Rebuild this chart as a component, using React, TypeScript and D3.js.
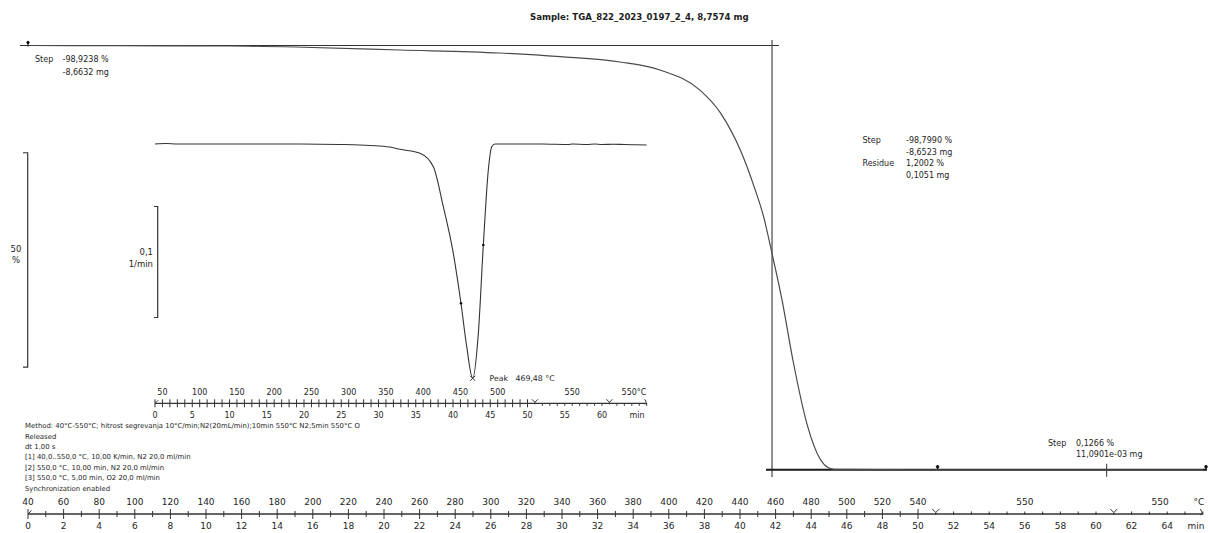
import React from 'react';
import * as d3 from 'd3';

// ---------- DATA ----------
const title = 'Sample: TGA_822_2023_0197_2_4, 8,7574 mg';

// TGA mass curve (time in min, mass in %)
const tgaTime = [0, 5, 11.35, 15, 20.9, 26.5, 29.9, 33.26, 35.5, 37.75, 38.9, 40.0, 40.84, 41.3, 41.8, 42.36, 42.98, 43.76, 44.5, 44.94, 45.3, 50, 55, 60, 66];
const tgaMass = [100, 99.95, 99.88, 99.65, 98.95, 98.25, 97.4, 96.15, 94.3, 89.6, 84.3, 75.8, 66.5, 60.5, 51.5, 40.7, 26.5, 11.8, 3.6, 1.6, 1.15, 1.09, 1.08, 1.08, 1.08];

// DTG curve (time in min, 1/min)
const dtgTime = [0, 1.5, 3, 10, 19.5, 24.8, 28.9, 31.5, 32.89, 35.57, 37.36, 38.7, 40.04, 41.07, 41.84, 42.64, 43.4, 44.07, 44.74, 45.2, 45.64, 48, 52, 55.5, 56, 58, 59, 60, 61.5, 63, 64.5, 66];
const dtgValue = [0, 0.0004, 0, 0, 0, -0.0004, -0.0013, -0.0027, -0.0048, -0.0084, -0.0205, -0.0565, -0.0985, -0.1435, -0.1826, -0.2111, -0.1706, -0.091, -0.0234, -0.0024, 0, 0, 0, -0.0004, 0, -0.0005, 0, -0.0004, -0.0002, -0.0005, -0.0007, -0.0009];

// Main axis labels
const mainMinTicks = [0, 2, 4, 6, 8, 10, 12, 14, 16, 18, 20, 22, 24, 26, 28, 30, 32, 34, 36, 38, 40, 42, 44, 46, 48, 50, 52, 54, 56, 58, 60, 62, 64];
const mainTempPos = [0, 2, 4, 6, 8, 10, 12, 14, 16, 18, 20, 22, 24, 26, 28, 30, 32, 34, 36, 38, 40, 42, 44, 46, 48, 50, 56, 63.6];
const mainTempLabels = ['40', '60', '80', '100', '120', '140', '160', '180', '200', '220', '240', '260', '280', '300', '320', '340', '360', '380', '400', '420', '440', '460', '480', '500', '520', '540', '550', '550'];
// Inset axis labels
const insetMinTicks = [0, 5, 10, 15, 20, 25, 30, 35, 40, 45, 50, 55, 60];
const insetTempPos = [1, 6, 11, 16, 21, 26, 31, 36, 41, 46, 56, 64.3];
const insetTempLabels = ['50', '100', '150', '200', '250', '300', '350', '400', '450', '500', '550', '550°C'];
const segmentMarks = [51, 61];

const methodLines = [
  'Method: 40°C-550°C; hitrost segrevanja 10°C/min;N2(20mL/min);10min 550°C N2;5min 550°C O',
  'Released',
  'dt 1,00 s',
  '[1] 40,0..550,0 °C, 10,00 K/min, N2 20,0 ml/min',
  '[2] 550,0 °C, 10,00 min, N2 20,0 ml/min',
  '[3] 550,0 °C, 5,00 min, O2 20,0 ml/min',
  'Synchronization enabled',
];

const stepStart = 41.8;
const residuePct = 1.08;

// ---------- CHART ----------
const W = 1208;
const H = 533;
const FONT = "'DejaVu Sans', Verdana, sans-serif";
const TXT = '#1e1e1e';

export default function App() {
  const xMain = d3.scaleLinear().domain([0, 64]).range([28, 1167.2]);
  const yPct = d3.scaleLinear().domain([0, 100]).range([474.4, 45.5]);
  const xIn = d3.scaleLinear().domain([0, 60]).range([155, 602]);
  const yDtg = d3.scaleLinear().domain([0, -0.1]).range([144, 255]);

  const tgaPts = tgaTime.map((t, i) => [t, tgaMass[i]] as [number, number]);
  const dtgPts = dtgTime.map((t, i) => [t, dtgValue[i]] as [number, number]);

  const tgaLine = d3
    .line<[number, number]>()
    .x((d) => xMain(d[0]))
    .y((d) => yPct(d[1]))
    .curve(d3.curveMonotoneX);
  const dtgLine = d3
    .line<[number, number]>()
    .x((d) => xIn(d[0]))
    .y((d) => yDtg(d[1]))
    .curve(d3.curveMonotoneX);

  const axisY = 514;
  const inAxisY = 403.3;
  const minutes = d3.range(0, 67);
  const inMinutes = d3.range(0, 67);

  const peakIdx = d3.minIndex(dtgValue);
  const peakX = xIn(dtgTime[peakIdx]);
  const peakY = yDtg(dtgValue[peakIdx]);

  const yTop = yPct(100);
  const yRes = yPct(residuePct);
  const xStep = xMain(stepStart);

  return (
    <svg
      width={W}
      height={H}
      viewBox={`0 0 ${W} ${H}`}
      style={{ position: 'absolute', left: 0, top: 0, background: '#fff' }}
      fontFamily={FONT}
    >
      <rect x={0} y={0} width={W} height={H} fill="#fff" />
      {/* Title */}
      <text x={530} y={17} dy="0.35em" fontSize={8.6} fontWeight="bold" fill={TXT}>
        {title}
      </text>

      {/* Step evaluation lines */}
      <line x1={20} x2={779} y1={yTop} y2={yTop} stroke="#333" strokeWidth={1} />
      <line x1={xStep} x2={xStep} y1={40} y2={477} stroke="#555" strokeWidth={1.3} />
      <line x1={766} x2={1207} y1={yRes} y2={yRes} stroke="#1a1a1a" strokeWidth={2} />
      <line x1={xMain(60.6)} x2={xMain(60.6)} y1={yRes - 6} y2={yRes + 7} stroke="#333" strokeWidth={1} />
      {/* pins */}
      <g stroke="#111" fill="#111">
        <line x1={28} x2={28} y1={yTop - 4} y2={yTop + 1} strokeWidth={1.2} />
        <circle cx={28} cy={yTop - 3} r={1.2} />
        <line x1={xMain(51.1)} x2={xMain(51.1)} y1={yRes - 4} y2={yRes} strokeWidth={1.2} />
        <circle cx={xMain(51.1)} cy={yRes - 3} r={1.3} />
        <line x1={1206} x2={1206} y1={yRes - 4} y2={yRes} strokeWidth={1.2} />
        <circle cx={1206} cy={yRes - 3} r={1.3} />
      </g>

      {/* TGA curve */}
      <path d={tgaLine(tgaPts) || ''} fill="none" stroke="#4a4a4a" strokeWidth={1.2} />

      {/* Step annotations */}
      <g fontSize={8} fill={TXT}>
        <text x={35} y={59} dy="0.35em">Step</text>
        <text x={62.5} y={59} dy="0.35em">-98,9238 %</text>
        <text x={62.5} y={72} dy="0.35em">-8,6632 mg</text>

        <text x={862.5} y={140} dy="0.35em">Step</text>
        <text x={906} y={140} dy="0.35em">-98,7990 %</text>
        <text x={906} y={152} dy="0.35em">-8,6523 mg</text>
        <text x={862.5} y={163} dy="0.35em">Residue</text>
        <text x={906} y={163} dy="0.35em">1,2002 %</text>
        <text x={906} y={175.5} dy="0.35em">0,1051 mg</text>

        <text x={1048} y={443} dy="0.35em">Step</text>
        <text x={1076} y={443} dy="0.35em">0,1266 %</text>
        <text x={1076} y={454.5} dy="0.35em">11,0901e-03 mg</text>
      </g>

      {/* Percent scale bar */}
      <path
        d={`M23,${yPct(75)} H${27.7} V${yPct(25)} H23`}
        fill="none"
        stroke="#333"
        strokeWidth={1.2}
      />
      <text x={16} y={249} dy="0.35em" fontSize={8.5} textAnchor="middle" fill={TXT}>50</text>
      <text x={16} y={260} dy="0.35em" fontSize={8.5} textAnchor="middle" fill={TXT}>%</text>

      {/* DTG scale bar */}
      <path
        d={`M154,${yDtg(-0.0563)} H157.7 V${yDtg(-0.1563)} H154`}
        fill="none"
        stroke="#333"
        strokeWidth={1.2}
      />
      <text x={153} y={252.5} dy="0.35em" fontSize={8.5} textAnchor="end" fill={TXT}>0,1</text>
      <text x={153} y={264} dy="0.35em" fontSize={8.5} textAnchor="end" fill={TXT}>1/min</text>

      {/* DTG curve */}
      <path d={dtgLine(dtgPts) || ''} fill="none" stroke="#333" strokeWidth={1.1} />
      <g fill="#111">
        <circle cx={xIn(41.07)} cy={yDtg(-0.1435)} r={1.3} />
        <circle cx={xIn(44.07)} cy={yDtg(-0.091)} r={1.3} />
      </g>
      <path
        d={`M${peakX - 2.5},${peakY - 2.5} L${peakX + 2.5},${peakY + 2.5} M${peakX + 2.5},${peakY - 2.5} L${peakX - 2.5},${peakY + 2.5}`}
        stroke="#333"
        strokeWidth={1}
      />
      <text x={489.5} y={378.5} dy="0.35em" fontSize={7.8} fill={TXT}>Peak</text>
      <text x={515.5} y={378.5} dy="0.35em" fontSize={7.8} fill={TXT}>469,48 °C</text>

      {/* Inset axis */}
      <g stroke="#333" strokeWidth={1}>
        <line x1={xIn(0)} x2={xIn(66)} y1={inAxisY} y2={inAxisY} strokeWidth={1.2} />
        {inMinutes.map((m) =>
          m === 0 || segmentMarks.includes(m) ? null : m < 51 ? (
            <line key={m} x1={xIn(m)} x2={xIn(m)} y1={inAxisY - 4} y2={inAxisY + 4} />
          ) : (
            <line key={m} x1={xIn(m)} x2={xIn(m)} y1={inAxisY} y2={inAxisY + 2.5} />
          )
        )}
        <path d={`M${xIn(0)},${inAxisY - 4} V${inAxisY + 4} M${xIn(0)},${inAxisY} L${xIn(0) + 3},${inAxisY - 3}`} fill="none" />
        <path d={`M${xIn(66) - 2},${inAxisY - 4} Q${xIn(66) + 1},${inAxisY} ${xIn(66) - 2},${inAxisY + 1}`} fill="none" />
        {segmentMarks.map((m) => (
          <path
            key={m}
            d={`M${xIn(m) - 3},${inAxisY - 4} L${xIn(m)},${inAxisY - 1} L${xIn(m) + 3},${inAxisY - 4} M${xIn(m)},${inAxisY - 1} V${inAxisY + 1}`}
            fill="none"
          />
        ))}
      </g>
      <g fontSize={8} fill={TXT} textAnchor="middle">
        {insetTempPos.map((t, i) => (
          <text key={'it' + i} x={xIn(t)} y={392.5} dy="0.35em">{insetTempLabels[i]}</text>
        ))}
        {insetMinTicks.map((t) => (
          <text key={'im' + t} x={xIn(t)} y={415.5} dy="0.35em">{String(t)}</text>
        ))}
        <text x={637} y={415.5} dy="0.35em">min</text>
      </g>

      {/* Method text */}
      <g fontSize={6.9} fill={TXT}>
        {methodLines.map((l, i) => (
          <text key={i} x={25} y={425.7 + i * 10.4} dy="0.35em">{l}</text>
        ))}
      </g>

      {/* Main axis */}
      <g stroke="#333" strokeWidth={1}>
        <line x1={xMain(0)} x2={xMain(66)} y1={axisY} y2={axisY} strokeWidth={1.3} />
        {minutes.map((m) =>
          m === 0 || segmentMarks.includes(m) ? null : m < 51 ? (
            <line
              key={m}
              x1={xMain(m)}
              x2={xMain(m)}
              y1={axisY - (m % 2 === 0 ? 5 : 3)}
              y2={axisY + (m % 2 === 0 ? 5 : 3)}
            />
          ) : (
            <line key={m} x1={xMain(m)} x2={xMain(m)} y1={axisY - 2.5} y2={axisY + 1} />
          )
        )}
        <path d={`M${xMain(0)},${axisY - 5} V${axisY + 5} M${xMain(0)},${axisY} L${xMain(0) + 3.5},${axisY - 3.5}`} fill="none" />
        <path d={`M${xMain(66) - 2.5},${axisY - 5} Q${xMain(66) + 1},${axisY} ${xMain(66) - 2.5},${axisY + 1}`} fill="none" />
        {segmentMarks.map((m) => (
          <path
            key={m}
            d={`M${xMain(m) - 3.5},${axisY - 5} L${xMain(m)},${axisY - 1.5} L${xMain(m) + 3.5},${axisY - 5} M${xMain(m)},${axisY - 1.5} V${axisY + 1}`}
            fill="none"
          />
        ))}
      </g>
      <g fontSize={9} fill={TXT} textAnchor="middle">
        {mainTempPos.map((t, i) => (
          <text key={'mt' + i} x={xMain(t)} y={501.5} dy="0.35em">{mainTempLabels[i]}</text>
        ))}
        <text x={1199} y={501.5} dy="0.35em">°C</text>
        {mainMinTicks.map((t) => (
          <text key={'mm' + t} x={xMain(t)} y={525.5} dy="0.35em">{String(t)}</text>
        ))}
        <text x={1196} y={525.5} dy="0.35em">min</text>
      </g>
    </svg>
  );
}
